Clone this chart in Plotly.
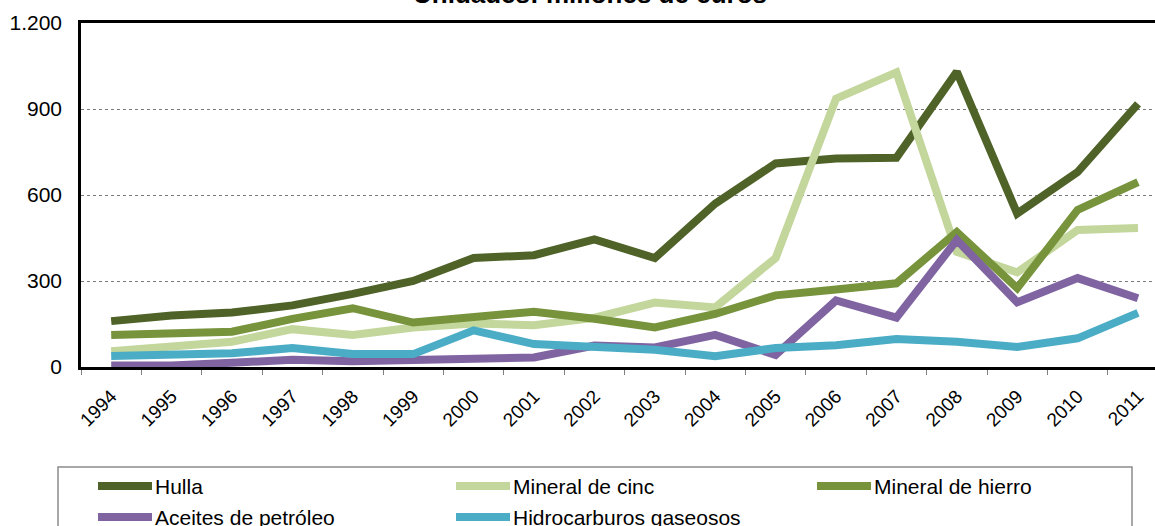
import plotly.graph_objects as go

years = [str(y) for y in range(1994, 2012)]

hulla = [160, 180, 190, 215, 255, 300, 380, 390, 445, 380, 570, 710, 727, 730, 1030, 535, 680, 918]
cinc = [55, 75, 88, 132, 112, 138, 152, 146, 172, 225, 208, 380, 936, 1028, 402, 330, 478, 485]
hierro = [112, 118, 123, 168, 205, 155, 176, 193, 168, 138, 185, 250, 270, 292, 471, 275, 548, 645]
aceites = [5, 5, 15, 25, 20, 25, 30, 33, 75, 68, 112, 42, 232, 172, 443, 226, 310, 240]
hidrocarburos = [38, 45, 48, 66, 45, 45, 128, 80, 72, 60, 38, 66, 76, 98, 88, 70, 100, 189]

series = [
    ("Hulla", hulla, "#4F6228"),
    ("Mineral de cinc", cinc, "#C3D69B"),
    ("Mineral de hierro", hierro, "#77933C"),
    ("Aceites de petróleo", aceites, "#8064A2"),
    ("Hidrocarburos gaseosos", hidrocarburos, "#4BACC6"),
]

W, H = 1155, 526
L, T, B = 81, 23, 159
plot_w = W - L
plot_h = H - T - B
slot = 60.4  # px per category in the original chart (right part is cut off)

fig = go.Figure()
for name, vals, color in series:
    fig.add_trace(go.Scatter(
        x=years, y=vals, mode="lines", name=name,
        line=dict(color=color, width=8),
        showlegend=False,
    ))

font = "Liberation Sans, Arial, sans-serif"

# pixel -> paper helpers for the hand drawn legend and title
def px(xp):
    return (xp - L) / plot_w

def py(yp):
    return (H - B - yp) / plot_h

# legend box (Excel style, cut off at the bottom)
fig.add_shape(type="rect", xref="paper", yref="paper",
              x0=px(58), x1=px(1132), y0=py(540), y1=py(467),
              line=dict(color="#8c8c8c", width=1.5), fillcolor="rgba(0,0,0,0)")

cols = [95, 453, 814]
rows = [486, 517]
for i, (name, vals, color) in enumerate(series):
    cx = cols[i % 3]
    ry = rows[i // 3]
    fig.add_shape(type="line", xref="paper", yref="paper",
                  x0=px(cx + 3), x1=px(cx + 57), y0=py(ry), y1=py(ry),
                  line=dict(color=color, width=8))
    fig.add_annotation(xref="paper", yref="paper", x=px(cx + 58), y=py(ry),
                       xanchor="left", yanchor="middle", showarrow=False,
                       text=name, font=dict(size=21, color="black", family=font))

# title, mostly cut off at the top
fig.add_annotation(xref="paper", yref="paper", x=px(590), y=py(-6),
                   xanchor="center", yanchor="middle", showarrow=False,
                   text="<b>Unidades: millones de euros</b>",
                   font=dict(size=26, color="black", family=font))

fig.update_layout(
    width=W, height=H,
    margin=dict(l=L, r=0, t=T, b=B),
    paper_bgcolor="white", plot_bgcolor="white",
    separators=",.",
    font=dict(family=font, color="black"),
    xaxis=dict(
        type="category",
        range=[-0.5, -0.5 + plot_w / slot],
        automargin=False,
        tickangle=-45,
        tickfont=dict(size=19, color="black"),
        tickson="boundaries", ticks="outside", ticklen=5, tickcolor="#7f7f7f",
        ticklabelstandoff=8,
        showline=True, linecolor="black", linewidth=2.5, mirror=True,
        showgrid=False, zeroline=False,
    ),
    yaxis=dict(
        range=[0, 1200],
        automargin=False,
        tickvals=[0, 300, 600, 900, 1200],
        tickformat=",d",
        tickfont=dict(size=21, color="black"),
        ticks="", ticklabelstandoff=12,
        showline=True, linecolor="black", linewidth=2.5,
        showgrid=True, gridcolor="#7a7a7a", gridwidth=1, griddash="dot",
        zeroline=False,
    ),
)

# drop the default page margin so the chart sits at the window's corner
fig.write_html("out.html", config={"displayModeBar": False},
               post_script="document.body.style.margin='0';")
